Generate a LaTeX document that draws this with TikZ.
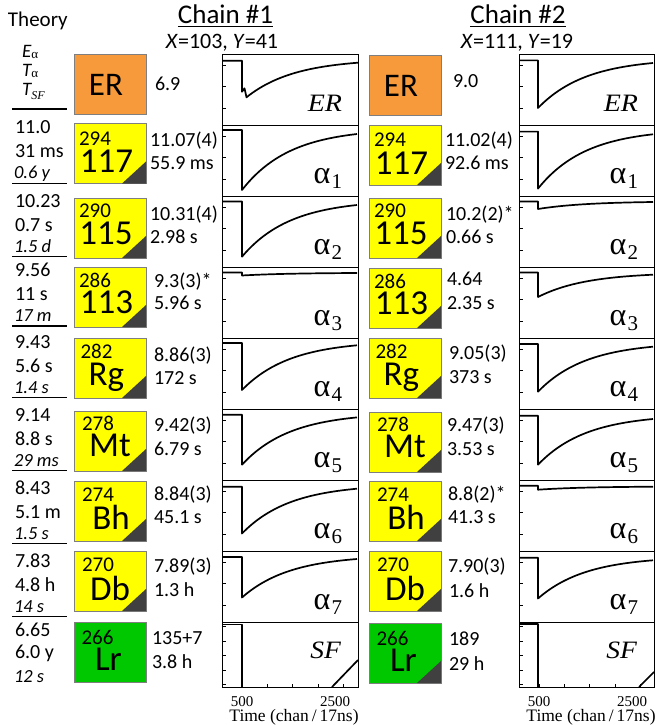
\documentclass[tikz,border=0pt]{standalone}
\usepackage{fontspec}
\usepackage{graphicx}
\setmainfont{Carlito}
\newfontfamily\tms{Liberation Serif}
\definecolor{boxyel}{HTML}{FFFF00}
\definecolor{boxora}{HTML}{F79A3B}
\definecolor{boxgrn}{HTML}{00C800}
\definecolor{cornr}{HTML}{404040}
\definecolor{boxedge}{HTML}{7F7F7F}
\newcommand{\myfs}[1]{\fontsize{#1}{#1}\selectfont}
% L, T, base, min, end, drop offset
\newcommand{\dectrace}[6]{%
  \pgfmathsetmacro{\mya}{(#5-#4*0.0911)/(1-0.0911)}%
  \draw[trc] (#1,#2+#3) -- (#1+#6,#2+#3) -- (#1+#6,#2+#4) -- plot[domain=0:115,samples=60] ({#1+#6+\x},{#2+\mya+(#4-\mya)*exp(-\x/48)});
}
\begin{document}
\begin{tikzpicture}[x=1pt,y=-1pt,
  txt/.style={inner sep=0pt,outer sep=0pt,anchor=base west,font=\myfs{20}},
  thi/.style={txt,font=\myfs{18.5}\itshape},
  hdr/.style={inner sep=0pt,outer sep=0pt,anchor=base,font=\myfs{27}},
  subh/.style={inner sep=0pt,outer sep=0pt,anchor=base,font=\myfs{22}},
  nucbox/.style={draw=boxedge,line width=0.8pt,minimum width=72pt,minimum height=60pt,inner sep=0pt,outer sep=0pt,anchor=north west},
  mass/.style={inner sep=0pt,outer sep=0pt,anchor=base west,font=\myfs{21}},
  elem/.style={inner sep=0pt,outer sep=0pt,anchor=base,font=\myfs{35}},
  panel/.style={draw=black,line width=0.9pt},
  trc/.style={line width=1.7pt,line join=round},
  tickm/.style={line width=0.7pt},
  plab/.style={inner sep=0pt,outer sep=0pt,anchor=base east},
  axl/.style={inner sep=0pt,outer sep=0pt,anchor=base,font=\tms\myfs{15}},
  rulel/.style={line width=1.2pt}
]
\useasboundingbox (0,0) rectangle (658,725);

% ---------- Theory column ----------
\node[txt,font=\myfs{21}] (theory) at (8,26.7) {Theory};
\node[txt,font=\myfs{19}\itshape] (hE) at (22,57.3) {E\raisebox{-1.5pt}{\tms\upshape\myfs{13}α}};
\node[txt,font=\myfs{19}\itshape] (hT) at (22,76.5) {T\raisebox{-1.5pt}{\tms\upshape\myfs{13}α}};
\node[txt,font=\myfs{19}\itshape] (hS) at (22,95.5) {T\raisebox{-4pt}{\tms\itshape\myfs{12}SF}};
\draw[rulel] (12,109) -- (67,109);
\foreach \i/\tyl/\va/\vb/\vc in {1/183.3/11.0/31 ms/0.6 y, 2/256.7/10.23/0.7 s/1.5 d, 3/326/9.56/11 s/17 m, 4/397.7/9.43/5.6 s/1.4 s, 5/470.7/9.14/8.8 s/29 ms, 6/543.7/8.43/5.1 m/1.5 s, 7/616.7/7.83/4.8 h/14 s}{
  \node[txt] (th\i a) at (15,\tyl-49.5) {\va};
  \node[txt] (th\i b) at (15,\tyl-25.5) {\vb};
  \node[thi] (th\i c) at (14,\tyl-4.5) {\vc};
  \draw[rulel] (12,\tyl) -- (67,\tyl);
}
\node[txt] (th8a) at (15,636) {6.65};
\node[txt] (th8b) at (15,658.3) {6.0 y};
\node[thi] (th8c) at (14,682.7) {12 s};

% ---------- Chain headers ----------
\node[hdr] (c1) at (225.5,24) {Chain \#1};
\draw[line width=1.3pt] ([yshift=-2.5pt]c1.base west) -- ([yshift=-2.5pt]c1.base east);
\node[subh] (x1) at (222,48.3) {\textit{X}=103, \textit{Y}=41};
\node[hdr] (c2) at (518,24) {Chain \#2};
\draw[line width=1.3pt] ([yshift=-2.5pt]c2.base west) -- ([yshift=-2.5pt]c2.base east);
\node[subh] (x2) at (517,48.3) {\textit{X}=111, \textit{Y}=19};

% ---------- Nuclide boxes ----------
\node[nucbox,fill=boxora] (aER) at (74,54) {};
\node[inner sep=0pt,anchor=base,font=\myfs{33}] (aERt) at ([xshift=-4pt,yshift=-41pt]aER.north) {ER};
\node[nucbox,fill=boxora] (bER) at (369,55) {};
\node[inner sep=0pt,anchor=base,font=\myfs{33}] (bERt) at ([xshift=-4pt,yshift=-41pt]bER.north) {ER};

\foreach \bnm/\bta/\btb/\bms/\bmx/\bmy/\bex/\bey in {
 117/123.5/125/294/5/21.5/-3.5/49,
 115/198/198/290/5/19.5/-4/46.5,
 113/267/268/286/5/20.5/-3.6/46.5,
 Rg/338/338/282/6.5/20.5/-3.6/47,
 Mt/411/412/278/8/19.5/0/45.5,
 Bh/481/481/274/8/20.5/1/48,
 Db/551/551/270/8/20.5/0/49}{
  \node[nucbox,fill=boxyel] (a\bnm) at (74,\bta) {};
  \fill[cornr] (a\bnm.south east) -- ++(-24,0) -- ++(24,-22) -- cycle;
  \node[mass] (a\bnm m) at ([xshift=\bmx pt,yshift=-\bmy pt]a\bnm.north west) {\bms};
  \node[elem] (a\bnm e) at ([xshift=\bex pt,yshift=-\bey pt]a\bnm.north) {\bnm};
  \node[nucbox,fill=boxyel] (b\bnm) at (369,\btb) {};
  \fill[cornr] (b\bnm.south east) -- ++(-24,0) -- ++(24,-22) -- cycle;
  \node[mass] (b\bnm m) at ([xshift=\bmx pt,yshift=-\bmy pt]b\bnm.north west) {\bms};
  \node[elem] (b\bnm e) at ([xshift=\bex pt,yshift=-\bey pt]b\bnm.north) {\bnm};
}
\node[nucbox,fill=boxgrn] (aLr) at (74,622) {};
\node[mass] (aLrm) at ([xshift=7.5pt,yshift=-22pt]aLr.north west) {266};
\node[elem] (aLre) at ([xshift=-1.5pt,yshift=-48.5pt]aLr.north) {Lr};
\node[nucbox,fill=boxgrn] (bLr) at (369,623) {};
\fill[cornr] (bLr.south east) -- ++(-24,0) -- ++(24,-22) -- cycle;
\node[mass] (bLrm) at ([xshift=7.5pt,yshift=-22pt]bLr.north west) {266};
\node[elem] (bLre) at ([xshift=-1.5pt,yshift=-48.5pt]bLr.north) {Lr};

% ---------- Measured values ----------
\foreach \j/\vx/\vy/\vt in {1/155/90/6.9, 2/150/146.7/11.07(4), 3/150/169.3/55.9 ms, 4/150/220/10.31(4), 5/150/243.3/2.98 s, 6/154/287.5/9.3(3)*, 7/154/309.3/5.96 s, 8/154/361.7/8.86(3), 9/154/384.3/172 s, 10/154/431/9.42(3), 11/154/455/6.79 s, 12/154/500/8.84(3), 13/154/523.5/45.1 s, 14/154/572.5/7.89(3), 15/154/596/1.3 h, 16/152/644.3/135+7, 17/152/668.3/3.8 h}{
  \node[txt] (va\j) at (\vx,\vy) {\vt};
}
\foreach \j/\vx/\vy/\vt in {1/453/87.3/9.0, 2/445/146.7/11.02(4), 3/445/169.3/92.6 ms, 4/446/220/10.2(2)*, 5/446/243.3/0.66 s, 6/447/285/4.64, 7/447/309.3/2.35 s, 8/449/359.3/9.05(3), 9/449/383.3/373 s, 10/447/431.7/9.47(3), 11/447/455.7/3.53 s, 12/448/500/8.8(2)*, 13/448/523.3/41.3 s, 14/448/572.3/7.90(3), 15/449/597.3/1.6 h, 16/449/645.7/189, 17/449/670/29 h}{
  \node[txt] (vb\j) at (\vx,\vy) {\vt};
}

% ---------- Panels ----------
\foreach \L/\R in {222/358, 519/654}{
  \foreach \T/\B in {54/125,125/196,196/267,267/338,338/409,409/480,480/551,551/622.5}{
    \draw[panel] (\L,\T) rectangle (\R,\B);
    \foreach \dy in {11,32,54} \draw[tickm] (\L,\T+\dy) -- ++(4,0);
  }
  \draw[panel] (\L,622.5) rectangle (\R,687);
  \foreach \dy in {4,19,33,48,62} \draw[tickm] (\L,622.5+\dy) -- ++(4,0);
  \foreach \dx in {20,45.3,70.6,95.9,121.2} \draw[tickm] (\L+\dx,687) -- ++(0,-3);
  \node[axl] at (\L+20,706.5) {500};
  \node[axl] at (\L+113,706.5) {2500};
  \node[inner sep=0pt,anchor=base,font=\tms\myfs{17.5}] at (\L+72,721) {Time (chan\,/\,17ns)};
}

% ---------- Traces: chain 1 ----------
\pgfmathsetmacro{\myeps}{exp(-111.5/48)}
\pgfmathsetmacro{\myb}{(8.7-43.3*\myeps)/(1-\myeps)}
\draw[trc] (222,60.7) -- (242,60.7) -- (242,91.7) -- (244.5,88.3) -- (246.5,97.3) -- plot[domain=0:111.5,samples=60] ({246.5+\x},{54+\myb+(43.3-\myb)*exp(-\x/48)});
\dectrace{222}{125}{5}{65}{9}{20}
\dectrace{222}{196}{5.5}{60.7}{9}{20}
\dectrace{222}{267}{5.4}{8.5}{6}{20}
\dectrace{222}{338}{5}{52}{7.3}{20}
\dectrace{222}{409}{5.7}{55.7}{8.4}{20}
\dectrace{222}{480}{6.7}{53.5}{8.7}{20}
\dectrace{222}{551}{6}{46.5}{8}{20}
\draw[trc] (222,624.5) -- (242,624.5) -- (242,687);
\draw[trc] (332,687) -- (358,660);

% ---------- Traces: chain 2 ----------
\dectrace{519}{54}{6.4}{54}{9}{19}
\dectrace{519}{125}{6.6}{63.6}{9.3}{19}
\dectrace{519}{196}{5.5}{13}{6}{19}
\dectrace{519}{267}{5.4}{30}{7.7}{19}
\dectrace{519}{338}{6}{53.7}{8.7}{19}
\dectrace{519}{409}{6.7}{55.7}{10}{19}
\dectrace{519}{480}{5.7}{9.7}{6.7}{19}
\dectrace{519}{551}{6.7}{47.5}{9.3}{19}
\draw[trc] (519,623.8) -- (538,623.8) -- (538,687);
\draw[trc] (639,687) -- (654,672);

% ---------- Panel labels ----------
\foreach \R/\c in {358/a, 654/b}{
  \foreach \T/\s in {125/1,196/2,267/3,338/4,409/5,480/6,551/7}
    \node[plab] (lab\c\s) at (\R-16,\T+58) {\tms\myfs{32}α\kern1pt\raisebox{-5pt}{\myfs{21}\s}};
  \node[plab] (lab\c ER) at (\R-16,111.7) {\scalebox{1.12}[1]{\tms\itshape\myfs{25}ER}};
  \node[plab] (lab\c SF) at (\R-17,658) {\scalebox{1.1}[1]{\tms\itshape\myfs{25}SF}};
}
\end{tikzpicture}
\end{document}
